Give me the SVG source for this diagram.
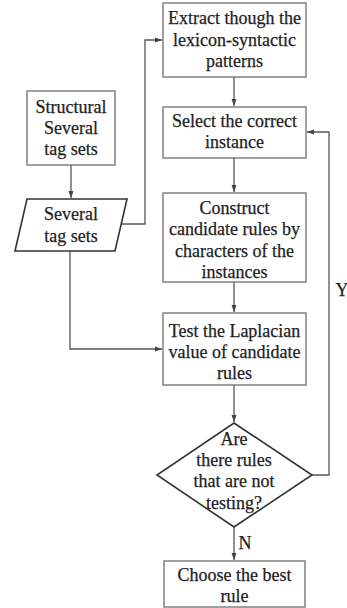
<svg xmlns="http://www.w3.org/2000/svg" width="347" height="608" viewBox="0 0 347 608">
<style>
.box{fill:#fff;stroke:#6e6e6e;stroke-width:1.3}
.dark{fill:#fff;stroke:#333;stroke-width:1.6}
.t{font-family:"Liberation Serif","Times New Roman","DejaVu Serif",serif;font-size:18px;fill:#1e1e1e;stroke:#1e1e1e;stroke-width:0.25;text-anchor:middle}
.c{fill:none;stroke:#555;stroke-width:1.3}
</style>
<defs>
<marker id="ah" markerWidth="8" markerHeight="8" refX="7" refY="4" orient="auto" markerUnits="userSpaceOnUse">
<path d="M0,1.5 L7,4 L0,6.5 Z" fill="#444"/>
</marker>
</defs>
<rect width="347" height="608" fill="#fff"/>
<g id="connectors">
<line class="c" x1="234" y1="77" x2="234" y2="106" marker-end="url(#ah)"/>
<line class="c" x1="234" y1="158" x2="234" y2="192" marker-end="url(#ah)"/>
<line class="c" x1="234" y1="282" x2="234" y2="312" marker-end="url(#ah)"/>
<line class="c" x1="234" y1="385" x2="234" y2="422" marker-end="url(#ah)"/>
<line class="c" x1="234" y1="527" x2="234" y2="560" marker-end="url(#ah)"/>
<line class="c" x1="71" y1="165" x2="71" y2="198" marker-end="url(#ah)"/>
<polyline class="c" points="122,224 145,224 145,40 162,40" marker-end="url(#ah)"/>
<polyline class="c" points="70,251 70,349 162,349" marker-end="url(#ah)"/>
<polyline class="c" points="312,475 329,475 329,132 307,132" marker-end="url(#ah)"/>
<text class="t" x="245" y="549">N</text>
<text class="t" x="342" y="296">Y</text>
</g>
<g id="extract">
<rect class="box" x="163" y="3" width="143" height="74"/>
<text class="t" x="234.5" y="24">Extract though the</text>
<text class="t" x="234.5" y="46">lexicon-syntactic</text>
<text class="t" x="234.5" y="67">patterns</text>
</g>
<g id="select">
<rect class="box" x="163" y="107" width="143" height="51"/>
<text class="t" x="234.5" y="127">Select the correct</text>
<text class="t" x="234.5" y="148">instance</text>
</g>
<g id="structural">
<rect class="box" x="27" y="91" width="88" height="74"/>
<text class="t" x="71" y="113">Structural</text>
<text class="t" x="71" y="134">Several</text>
<text class="t" x="71" y="155">tag sets</text>
</g>
<g id="tagsets">
<polygon class="dark" points="27,199 127,199 115,251 15,251"/>
<text class="t" x="71" y="220">Several</text>
<text class="t" x="71" y="242">tag sets</text>
</g>
<g id="construct">
<rect class="box" x="163" y="193" width="143" height="89"/>
<text class="t" x="234.5" y="214">Construct</text>
<text class="t" x="234.5" y="235">candidate rules by</text>
<text class="t" x="234.5" y="257">characters of the</text>
<text class="t" x="234.5" y="278">instances</text>
</g>
<g id="test">
<rect class="box" x="163" y="313" width="143" height="72"/>
<text class="t" x="234.5" y="337">Test the Laplacian</text>
<text class="t" x="234.5" y="358">value of candidate</text>
<text class="t" x="234.5" y="379">rules</text>
</g>
<g id="decision">
<polygon class="dark" points="234,423 312,475 234,527 157,475"/>
<text class="t" x="234" y="445">Are</text>
<text class="t" x="234" y="466">there rules</text>
<text class="t" x="234" y="487">that are not</text>
<text class="t" x="234" y="509">testing?</text>
</g>
<g id="choose">
<rect class="box" x="164" y="561" width="141" height="46"/>
<text class="t" x="234.5" y="581">Choose the best</text>
<text class="t" x="234.5" y="602">rule</text>
</g>
</svg>
